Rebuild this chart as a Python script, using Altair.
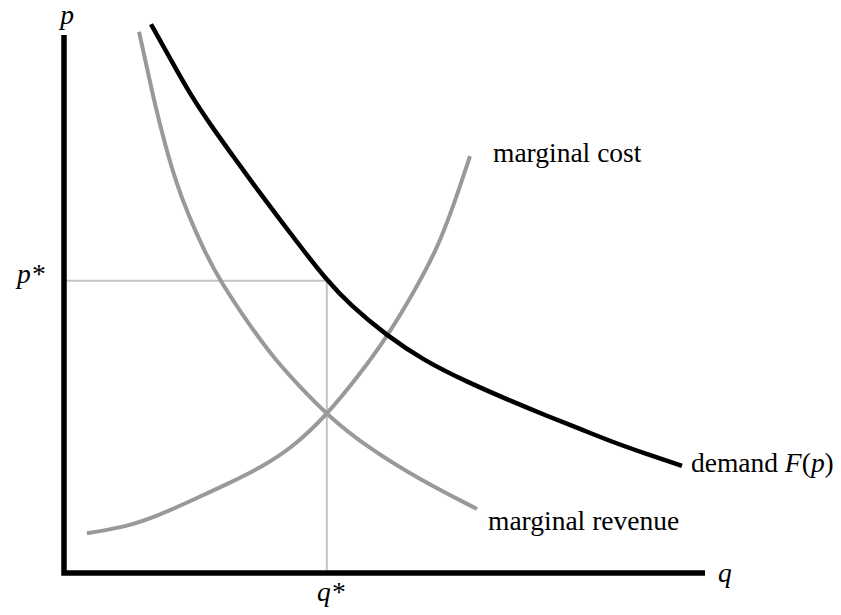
import altair as alt
import pandas as pd

# ---- data (q, p in axis units: each axis runs 0..10) ----
demand_q = [1.357, 1.654, 1.966, 2.309, 2.637, 2.964, 3.323, 3.682, 4.072, 4.462,
            5.039, 5.601, 6.287, 7.005, 7.535, 8.050, 8.565, 9.095, 9.641]
demand_p = [10.20, 9.57, 8.90, 8.29, 7.75, 7.21, 6.64, 6.08, 5.48, 4.98,
            4.41, 3.96, 3.55, 3.18, 2.92, 2.68, 2.43, 2.21, 1.99]

mr_q = [1.170, 1.295, 1.420, 1.591, 1.747, 1.934, 2.184, 2.434, 2.870, 3.292,
        3.713, 4.103, 4.727, 5.554, 6.443]
mr_p = [10.06, 9.39, 8.70, 7.90, 7.27, 6.67, 6.00, 5.43, 4.65, 3.96,
        3.42, 2.94, 2.34, 1.73, 1.19]

mc_q = [0.359, 0.983, 1.498, 2.012, 2.543, 3.058, 3.573, 4.103, 4.618, 5.039,
        5.445, 5.819, 6.069, 6.334]
mc_p = [0.74, 0.86, 1.08, 1.36, 1.65, 1.95, 2.34, 2.94, 3.70, 4.39,
        5.19, 6.02, 6.80, 7.75]

q_star = 4.10
p_star = 5.43

axis_q = [0, 0, 10]
axis_p = [10, 0, 0]

upright_text = ["marginal cost", "marginal revenue", "demand", "(", ")"]
upright_q = [6.693, 6.615, 9.782, 11.509, 11.866]
upright_p = [7.639, 0.799, 1.877, 1.877, 1.877]

italic_text = ["p", "p*", "q*", "q", "F", "p"]
italic_q = [-0.06, -0.733, 3.947, 10.203, 11.246, 11.652]
italic_p = [10.21, 5.39, -0.52, -0.167, 1.877, 1.877]

FONT = "Liberation Serif, Times New Roman, DejaVu Serif, serif"
FS = 27.5

def curve_df(qs, ps):
    return pd.DataFrame({"q": qs, "p": ps, "i": list(range(len(qs)))})

xs = alt.Scale(domain=[0, 10], nice=False, zero=False)
ys = alt.Scale(domain=[0, 10], nice=False, zero=False)

def enc(chart):
    return chart.encode(
        x=alt.X("q:Q", scale=xs, axis=None),
        y=alt.Y("p:Q", scale=ys, axis=None),
        order=alt.Order("i:Q"),
    )

ref_df = curve_df([0, q_star, q_star], [p_star, p_star, 0])
ref = enc(alt.Chart(ref_df).mark_line(color="#c4c4c4", strokeWidth=2))

axes = enc(alt.Chart(curve_df(axis_q, axis_p)).mark_line(
    color="black", strokeWidth=5.5, strokeJoin="miter", strokeCap="butt"))

mr = enc(alt.Chart(curve_df(mr_q, mr_p)).mark_line(
    color="#999999", strokeWidth=4, interpolate="basis"))
mc = enc(alt.Chart(curve_df(mc_q, mc_p)).mark_line(
    color="#999999", strokeWidth=4, interpolate="basis"))
demand = enc(alt.Chart(curve_df(demand_q, demand_p)).mark_line(
    color="black", strokeWidth=4.5, interpolate="basis"))

up_df = pd.DataFrame({"t": upright_text, "q": upright_q, "p": upright_p})
it_df = pd.DataFrame({"t": italic_text, "q": italic_q, "p": italic_p})

up = alt.Chart(up_df).mark_text(
    font=FONT, fontSize=FS, align="left", baseline="alphabetic", color="black"
).encode(x=alt.X("q:Q", scale=xs, axis=None), y=alt.Y("p:Q", scale=ys, axis=None), text="t:N")

it = alt.Chart(it_df).mark_text(
    font=FONT, fontSize=FS, fontStyle="italic", align="left", baseline="alphabetic", color="black"
).encode(x=alt.X("q:Q", scale=xs, axis=None), y=alt.Y("p:Q", scale=ys, axis=None), text="t:N")

chart = alt.layer(ref, axes, mr, mc, demand, up, it).properties(
    width=641, height=538,
    autosize=alt.AutoSizeParams(type="none"),
    padding={"left": 56, "top": 27, "right": 128, "bottom": 34},
).configure_view(stroke=None)

chart.save("out.html", embed_options={"renderer": "svg", "actions": False})
